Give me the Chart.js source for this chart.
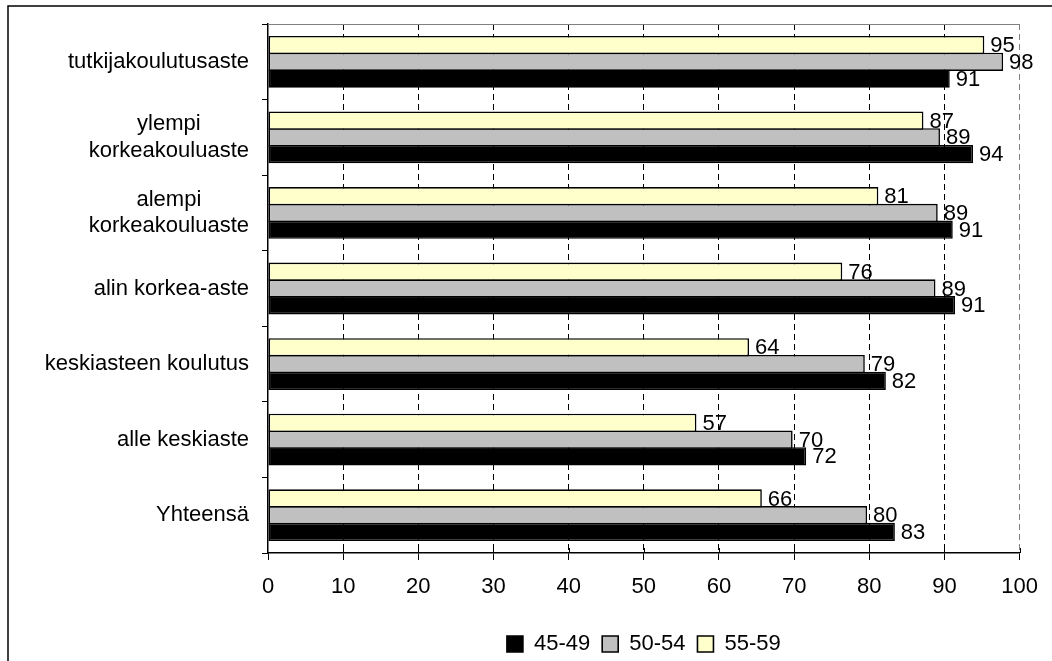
<!DOCTYPE html>
<html><head><meta charset="utf-8">
<script src="https://cdn.jsdelivr.net/npm/chart.js@4.4.1/dist/chart.umd.min.js"></script>
<style>html,body{margin:0;padding:0;background:#fff;}</style>
</head><body>
<canvas id="c" width="1052" height="661"></canvas>
<script>
// ---- data ----
const categories = [
  ["tutkijakoulutusaste"],
  ["ylempi", "korkeakouluaste"],
  ["alempi", "korkeakouluaste"],
  ["alin korkea-aste"],
  ["keskiasteen koulutus"],
  ["alle keskiaste"],
  ["Yhteensä"]
];
const seriesNames = ["55-59", "50-54", "45-49"];
const values5559 = [95.3, 87.2, 81.2, 76.4, 64.0, 57.0, 65.7];
const values5054 = [97.8, 89.4, 89.1, 88.8, 79.4, 69.8, 79.7];
const values4549 = [90.7, 93.8, 91.1, 91.4, 82.2, 71.6, 83.4];
const xTickValues = [0, 10, 20, 30, 40, 50, 60, 70, 80, 90, 100];

const FONT = "'Liberation Sans', Arial, sans-serif";

const framePlugin = {
  id: 'frame',
  beforeDraw(chart) {
    const ctx = chart.ctx;
    ctx.save();
    ctx.fillStyle = '#fff';
    ctx.fillRect(0, 0, chart.width, chart.height);
    ctx.strokeStyle = '#000';
    ctx.lineWidth = 1.5;
    ctx.strokeRect(8, 6, 1200, 800);
    ctx.restore();
  },
  afterDraw(chart) {
    const ctx = chart.ctx;
    const a = chart.chartArea;
    const xs = chart.scales.x;
    const ys = chart.scales.y;
    ctx.save();
    // top border of plot area
    ctx.strokeStyle = '#808080';
    ctx.lineWidth = 1;
    ctx.beginPath();
    ctx.moveTo(a.left, a.top + 0.5);
    ctx.lineTo(a.right, a.top + 0.5);
    ctx.stroke();
    // inner part of the crossing x tick marks
    ctx.strokeStyle = '#000';
    ctx.lineWidth = 1;
    xs.ticks.forEach(t => {
      if (t.value === 0) return;
      const px = Math.round(xs.getPixelForValue(t.value)) + 0.5;
      ctx.beginPath();
      ctx.moveTo(px, a.bottom - 5);
      ctx.lineTo(px, a.bottom);
      ctx.stroke();
    });
    // category labels: block right-aligned, lines centred
    ctx.fillStyle = '#000';
    ctx.font = '22px ' + FONT;
    ctx.textBaseline = 'middle';
    ctx.textAlign = 'center';
    const right = 249;
    const lh = 26.5;
    chart.data.labels.forEach((lab, i) => {
      const lines = Array.isArray(lab) ? lab : [lab];
      const w = Math.max(...lines.map(l => ctx.measureText(l).width));
      const cy = ys.getPixelForValue(i);
      const cx = right - w / 2;
      lines.forEach((l, j) => {
        ctx.fillText(l, cx, cy + (j - (lines.length - 1) / 2) * lh);
      });
    });
    ctx.restore();
  }
};

const labelPlugin = {
  id: 'barLabels',
  afterDatasetsDraw(chart) {
    const ctx = chart.ctx;
    ctx.save();
    ctx.fillStyle = '#000';
    ctx.font = '22px ' + FONT;
    ctx.textBaseline = 'middle';
    ctx.textAlign = 'left';
    chart.data.datasets.forEach((ds, di) => {
      const meta = chart.getDatasetMeta(di);
      meta.data.forEach((el, i) => {
        ctx.fillText(String(Math.round(ds.data[i])), el.x + 6, el.y + 1);
      });
    });
    ctx.restore();
  }
};

new Chart(document.getElementById('c'), {
  type: 'bar',
  data: {
    labels: categories,
    datasets: [
      { label: seriesNames[0], data: values5559, backgroundColor: '#FFFFCC', borderColor: '#000', borderWidth: 1.6, borderSkipped: false },
      { label: seriesNames[1], data: values5054, backgroundColor: '#C0C0C0', borderColor: '#000', borderWidth: 1.6, borderSkipped: false },
      { label: seriesNames[2], data: values4549, backgroundColor: '#000000', borderColor: '#000', borderWidth: 1.6, borderSkipped: false }
    ]
  },
  options: {
    indexAxis: 'y',
    responsive: false,
    animation: false,
    devicePixelRatio: 1,
    categoryPercentage: 0.665,
    barPercentage: 1.09,
    layout: { padding: { top: 24, right: 31, left: 0, bottom: -4 } },
    plugins: {
      tooltip: { enabled: false },
      legend: {
        position: 'bottom',
        reverse: true,
        fullSize: false,
        labels: {
          color: '#000',
          font: { family: FONT, size: 22 },
          boxWidth: 16,
          boxHeight: 16,
          padding: 12
        }
      }
    },
    scales: {
      x: {
        min: 0, max: 100,
        afterBuildTicks: s => { s.ticks = xTickValues.map(v => ({ value: v })); },
        ticks: { color: '#000', font: { family: FONT, size: 22 }, padding: 14, maxRotation: 0 },
        grid: {
          color: c => (c.tick && c.tick.value === 100) ? '#808080' : ((c.tick && c.tick.value === 0) ? 'rgba(0,0,0,0)' : '#000'),
          lineWidth: 1,
          tickLength: 7,
          tickColor: '#000',
          drawTicks: true
        },
        border: { display: true, color: '#000', width: 1.5, dash: [6, 4] },
        afterFit: s => { s.height = 68; }
      },
      y: {
        ticks: { display: false },
        grid: { drawOnChartArea: false, drawTicks: true, tickLength: 6, color: '#000', offset: true },
        border: { display: true, color: '#000', width: 1.5 },
        afterFit: s => { s.width = 268; }
      }
    }
  },
  plugins: [framePlugin, labelPlugin]
});
</script>
</body></html>
